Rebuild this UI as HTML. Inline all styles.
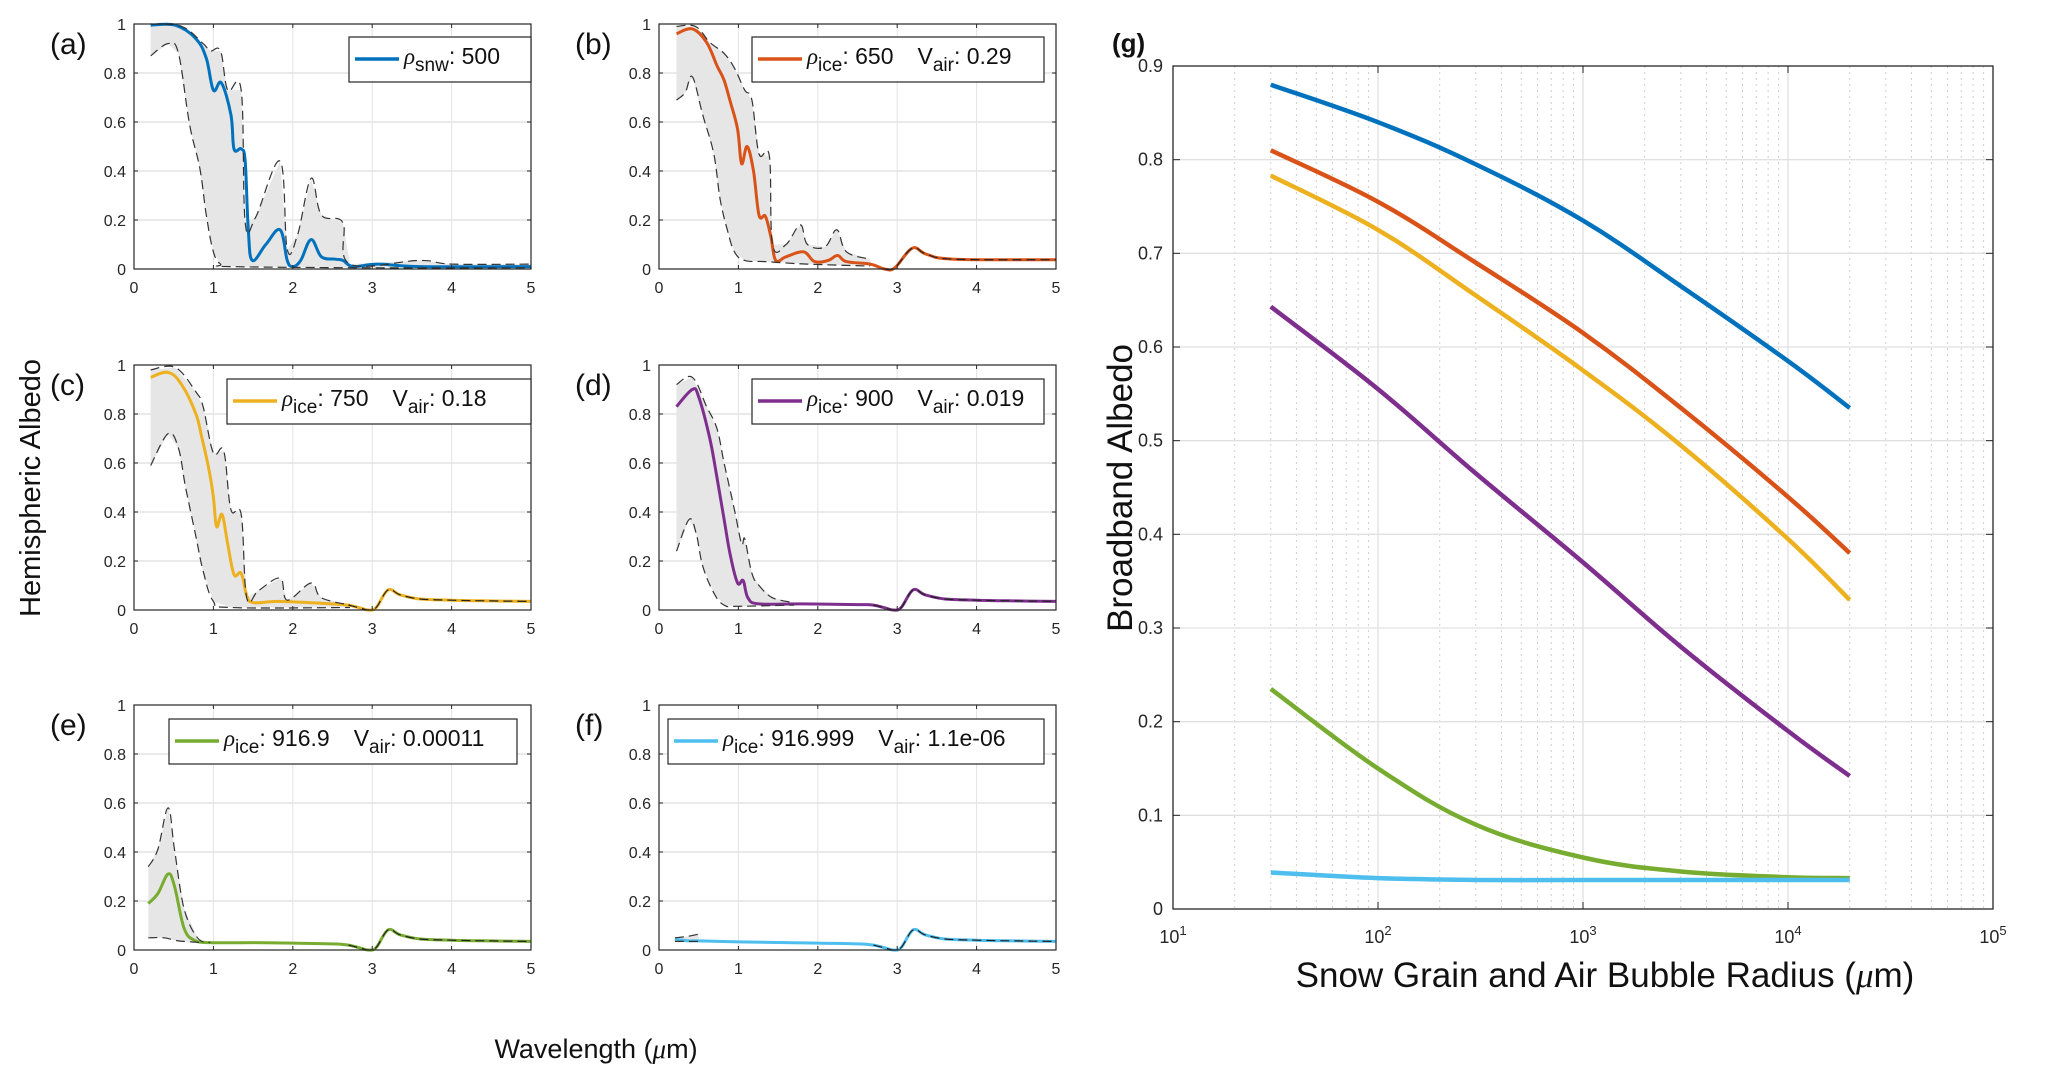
<!DOCTYPE html>
<html><head><meta charset="utf-8">
<style>
html,body{margin:0;padding:0;background:#fff;}
svg{display:block;font-family:"Liberation Sans",sans-serif;}
</style></head>
<body>
<svg id="fig" width="2067" height="1085" viewBox="0 0 2067 1085" xmlns="http://www.w3.org/2000/svg"></svg>
<script>
// ---------- Data: spectral panels (wavelength µm, albedo) ----------
const tailX = [2.5, 2.7, 2.85, 2.95, 3.05, 3.2, 3.35, 3.6, 4.0, 4.5, 5.0];
const tailY = [0.025, 0.02, 0.008, 0.0, 0.01, 0.082, 0.062, 0.045, 0.04, 0.037, 0.035];

const aLineX = [0.21,0.52,0.78,0.91,1.0,1.1,1.22,1.26,1.35,1.4,1.44,1.49,1.66,1.84,1.93,2.0,2.1,2.23,2.36,2.54,2.63,2.76,3.07,3.6,5.0];
const aLineY = [0.995,0.995,0.94,0.86,0.73,0.76,0.63,0.49,0.49,0.44,0.16,0.035,0.10,0.16,0.035,0.01,0.035,0.12,0.05,0.04,0.035,0.01,0.02,0.01,0.01];
const aUpX = [0.21,0.6,0.87,0.96,1.09,1.18,1.35,1.4,1.53,1.84,1.93,2.06,2.23,2.36,2.63,2.72,3.6,4.0,5.0];
const aUpY = [1.0,0.99,0.92,0.89,0.89,0.73,0.73,0.19,0.21,0.44,0.08,0.14,0.37,0.22,0.19,0.02,0.035,0.02,0.02];
const aLoX = [0.21,0.43,0.56,0.7,0.83,0.91,1.0,1.09,1.22,3.0,5.0];
const aLoY = [0.87,0.92,0.88,0.59,0.41,0.22,0.07,0.02,0.01,0.005,0.005];

const bLineX = [0.22,0.42,0.6,0.73,0.82,0.9,0.99,1.04,1.11,1.19,1.26,1.34,1.41,1.47,1.6,1.82,1.96,2.13,2.25,2.36,2.66,2.84,2.97,3.19,3.37,3.72,5.0];
const bLineY = [0.96,0.98,0.925,0.83,0.77,0.68,0.57,0.43,0.5,0.4,0.22,0.215,0.13,0.035,0.05,0.07,0.03,0.035,0.055,0.03,0.02,0.0,0.005,0.085,0.06,0.04,0.038];
const bUpX = [0.22,0.46,0.64,0.82,0.95,1.08,1.17,1.26,1.39,1.43,1.6,1.78,1.87,2.09,2.24,2.36,2.66];
const bUpY = [0.99,0.99,0.925,0.88,0.82,0.73,0.69,0.47,0.46,0.1,0.1,0.18,0.1,0.09,0.16,0.07,0.04];
const bLoX = [0.22,0.33,0.42,0.55,0.69,0.77,0.86,0.95,1.08,1.34,1.87,2.66];
const bLoY = [0.69,0.72,0.785,0.63,0.47,0.285,0.16,0.07,0.035,0.03,0.02,0.012];

const cLineX = [0.21,0.43,0.6,0.78,0.85,0.94,1.0,1.04,1.11,1.18,1.26,1.35,1.42,1.5,1.8,2.2,2.5];
const cLineY = [0.95,0.97,0.92,0.8,0.71,0.58,0.46,0.34,0.39,0.27,0.145,0.15,0.06,0.03,0.035,0.03,0.025];
const cUpX = [0.21,0.52,0.78,0.87,1.0,1.13,1.22,1.35,1.42,1.57,1.84,1.93,2.23,2.36,2.72];
const cUpY = [0.98,0.99,0.89,0.83,0.64,0.65,0.41,0.39,0.05,0.08,0.13,0.04,0.11,0.05,0.02];
const cLoX = [0.21,0.43,0.56,0.65,0.78,0.87,1.0,1.22,2.72];
const cLoY = [0.59,0.72,0.66,0.5,0.3,0.16,0.035,0.01,0.01];

const dLineX = [0.22,0.42,0.5,0.64,0.73,0.82,0.9,0.99,1.06,1.12,1.26,1.8,2.5];
const dLineY = [0.83,0.9,0.87,0.7,0.54,0.37,0.22,0.11,0.12,0.05,0.025,0.025,0.022];
const dUpX = [0.22,0.42,0.6,0.73,0.82,0.95,1.04,1.08,1.17,1.26,1.43,1.7];
const dUpY = [0.92,0.95,0.83,0.74,0.6,0.41,0.27,0.29,0.15,0.1,0.05,0.03];
const dLoX = [0.22,0.38,0.47,0.55,0.69,0.82,0.99,1.7];
const dLoY = [0.24,0.37,0.31,0.18,0.07,0.02,0.015,0.02];

const eLineX = [0.18,0.3,0.43,0.51,0.63,0.76,0.96,1.5,2.0,2.5];
const eLineY = [0.19,0.23,0.31,0.26,0.09,0.04,0.03,0.03,0.028,0.025];
const eUpX = [0.18,0.3,0.43,0.51,0.63,0.8,0.96];
const eUpY = [0.34,0.41,0.58,0.41,0.17,0.05,0.03];
const eLoX = [0.18,0.38,0.51,0.63,0.88];
const eLoY = [0.05,0.05,0.04,0.035,0.03];

const fLineX = [0.2,0.35,0.5,1.0,2.0,2.5];
const fLineY = [0.045,0.038,0.037,0.033,0.028,0.025];
const fUpX = [0.2,0.35,0.5];
const fUpY = [0.05,0.055,0.065];
const fLoX = [0.2,0.35,0.5];
const fLoY = [0.035,0.035,0.035];

const legendRho = ["snw","ice","ice","ice","ice","ice"];
const legendRhoVal = ["500","650","750","900","916.9","916.999"];
const legendVair = [null,"0.29","0.18","0.019","0.00011","1.1e-06"];
const panelLetters = ["(a)","(b)","(c)","(d)","(e)","(f)"];
const xTicksSmall = [0,1,2,3,4,5];
const yTicksSmall = [0,0.2,0.4,0.6,0.8,1];
const yTickLabelsSmall = ["0","0.2","0.4","0.6","0.8","1"];

// ---------- Data: broadband panel (g) ----------
const gRadius = [30,100,300,1000,3000,10000,20000];
const gBlue   = [0.88,0.84,0.795,0.735,0.665,0.585,0.535];
const gOrange = [0.81,0.755,0.69,0.615,0.535,0.44,0.38];
const gYellow = [0.783,0.725,0.655,0.575,0.495,0.395,0.33];
const gPurple = [0.643,0.555,0.465,0.37,0.28,0.19,0.142];
const gGreen  = [0.235,0.15,0.09,0.055,0.04,0.034,0.033];
const gCyan   = [0.039,0.033,0.031,0.031,0.031,0.031,0.031];
const gYTicks = [0,0.1,0.2,0.3,0.4,0.5,0.6,0.7,0.8,0.9];
const gYTickLabels = ["0","0.1","0.2","0.3","0.4","0.5","0.6","0.7","0.8","0.9"];
const gXExps = [1,2,3,4,5];

const COLORS = ["#0072BD","#D95319","#EDB120","#7E2F8E","#77AC30","#4DBEEE"];
const NS = "http://www.w3.org/2000/svg";
const svg = document.getElementById("fig");

function mk(tag, attrs, parent){
  const e = document.createElementNS(NS, tag);
  for (const k in attrs) e.setAttribute(k, attrs[k]);
  (parent||svg).appendChild(e);
  return e;
}
function smoothPath(pts){
  if (pts.length < 2) return "";
  let d = "M"+pts[0][0].toFixed(1)+","+pts[0][1].toFixed(1);
  for (let i=0;i<pts.length-1;i++){
    const p0 = pts[Math.max(0,i-1)], p1 = pts[i], p2 = pts[i+1], p3 = pts[Math.min(pts.length-1,i+2)];
    const t = 0.18;
    const c1x = p1[0]+(p2[0]-p0[0])*t, c1y = p1[1]+(p2[1]-p0[1])*t;
    const c2x = p2[0]-(p3[0]-p1[0])*t, c2y = p2[1]-(p3[1]-p1[1])*t;
    d += " C"+c1x.toFixed(1)+","+c1y.toFixed(1)+" "+c2x.toFixed(1)+","+c2y.toFixed(1)+" "+p2[0].toFixed(1)+","+p2[1].toFixed(1);
  }
  return d;
}

const panels = [
  {L:134,R:531,T:24,B:269, line:[aLineX,aLineY], up:[aUpX,aUpY], lo:[aLoX,aLoY], tail:false},
  {L:659,R:1056,T:24,B:269, line:[bLineX,bLineY], up:[bUpX,bUpY], lo:[bLoX,bLoY], tail:false},
  {L:134,R:531,T:365,B:610, line:[cLineX,cLineY], up:[cUpX,cUpY], lo:[cLoX,cLoY], tail:true},
  {L:659,R:1056,T:365,B:610, line:[dLineX,dLineY], up:[dUpX,dUpY], lo:[dLoX,dLoY], tail:true},
  {L:134,R:531,T:705,B:950, line:[eLineX,eLineY], up:[eUpX,eUpY], lo:[eLoX,eLoY], tail:true},
  {L:659,R:1056,T:705,B:950, line:[fLineX,fLineY], up:[fUpX,fUpY], lo:[fLoX,fLoY], tail:true}
];
const legendBoxes = [[349,37,182],[752,37,292],[227,379,304],[752,379,292],[169,719,348],[668,719,376]];

panels.forEach((p,i)=>{
  const g = mk("g",{});
  
  
  const sx = v => p.L + (v/5)*(p.R-p.L);
  const sy = v => p.B - v*(p.B-p.T);
  mk("rect",{x:p.L,y:p.T,width:p.R-p.L,height:p.B-p.T,fill:"#fff"},g);
  xTicksSmall.forEach(t=>{ if(t>0&&t<5) mk("line",{x1:sx(t),x2:sx(t),y1:p.T,y2:p.B,stroke:"#e3e3e3","stroke-width":1},g);});
  yTicksSmall.forEach(t=>{ if(t>0&&t<1) mk("line",{x1:p.L,x2:p.R,y1:sy(t),y2:sy(t),stroke:"#e3e3e3","stroke-width":1.5},g);});
  const upPts = p.up[0].map((x,k)=>[sx(x),sy(p.up[1][k])]);
  const loPts = p.lo[0].map((x,k)=>[sx(x),sy(p.lo[1][k])]);
  const poly = upPts.concat(loPts.slice().reverse()).map(q=>q.join(",")).join(" ");
  const band = mk("polygon",{points:poly,fill:"#e6e6e6",stroke:"none"},g);
  
  
  let lx = p.line[0].slice(), ly = p.line[1].slice();
  if (p.tail){ lx = lx.concat(tailX.slice(1)); ly = ly.concat(tailY.slice(1)); }
  const linePts = lx.map((x,k)=>[sx(x),sy(ly[k])]);
  const ml = mk("path",{d:smoothPath(linePts),fill:"none",stroke:COLORS[i],"stroke-width":3,"stroke-linejoin":"round"},g);
  
  
  const u = mk("path",{d:smoothPath(upPts),fill:"none",stroke:"#333","stroke-width":1.2,"stroke-dasharray":"9,5"},g);
  
  
  const l = mk("path",{d:smoothPath(loPts),fill:"none",stroke:"#333","stroke-width":1.2,"stroke-dasharray":"9,5"},g);
  
  
  if (p.tail || i===1){
    const start = i===1 ? 2.9 : 2.7;
    const tx = i===1 ? [2.84,2.97,3.19,3.37,3.72,5.0] : tailX.filter(x=>x>=start);
    const ty = i===1 ? [0.0,0.005,0.085,0.06,0.04,0.038] : tailY.slice(tailY.length-tx.length);
    const td = mk("path",{d:smoothPath(tx.map((x,k)=>[sx(x),sy(ty[k])])),fill:"none",stroke:"#222","stroke-width":1.2,"stroke-dasharray":"9,5"},g);
    
    
  }
  mk("rect",{x:p.L,y:p.T,width:p.R-p.L,height:p.B-p.T,fill:"none",stroke:"#262626","stroke-width":1.2},g);
  xTicksSmall.forEach(t=>{
    mk("line",{x1:sx(t),x2:sx(t),y1:p.B,y2:p.B-4,stroke:"#262626"},g);
    mk("line",{x1:sx(t),x2:sx(t),y1:p.T,y2:p.T+4,stroke:"#262626"},g);
    const tl = mk("text",{x:sx(t),y:p.B+24,"font-size":16,"text-anchor":"middle",fill:"#262626"},g);
    tl.textContent = String(t);
    
    
  });
  yTicksSmall.forEach((t,k)=>{
    mk("line",{x1:p.L,x2:p.L+4,y1:sy(t),y2:sy(t),stroke:"#262626"},g);
    mk("line",{x1:p.R,x2:p.R-4,y1:sy(t),y2:sy(t),stroke:"#262626"},g);
    const tl = mk("text",{x:p.L-8,y:sy(t)+6,"font-size":16,"text-anchor":"end",fill:"#262626"},g);
    tl.textContent = yTickLabelsSmall[k];
    
    
  });
  const pl = mk("text",{x:p.L-84,y:p.T+30,"font-size":30,fill:"#111"},g);
  pl.textContent = panelLetters[i];
  
  
  const [bx,by,bw] = legendBoxes[i];
  const lg = mk("g",{},g);
  
  
  mk("rect",{x:bx,y:by,width:bw,height:45,fill:"#fff",stroke:"#262626","stroke-width":1.2},lg);
  mk("line",{x1:bx+6,x2:bx+50,y1:by+22,y2:by+22,stroke:COLORS[i],"stroke-width":3.5},lg);
  const t = mk("text",{x:bx+55,y:by+27,"font-size":23,fill:"#111"},lg);
  let h = '<tspan font-style="italic" font-family="Liberation Serif">ρ</tspan><tspan dy="7" font-size="19">'+legendRho[i]+'</tspan><tspan dy="-7">: '+legendRhoVal[i]+'</tspan>';
  if (legendVair[i]) h += '<tspan dx="24">V</tspan><tspan dy="7" font-size="19">air</tspan><tspan dy="-7">: '+legendVair[i]+'</tspan>';
  t.innerHTML = h;
});

let tt = mk("text",{x:0,y:0,"font-size":29,"text-anchor":"middle",fill:"#111",transform:"translate(40,488) rotate(-90)"});
tt.textContent = "Hemispheric Albedo";


tt = mk("text",{x:596,y:1058,"font-size":27,"text-anchor":"middle",fill:"#111"});
tt.innerHTML = 'Wavelength (<tspan font-style="italic" font-family="Liberation Serif">μ</tspan>m)';



// ---------- Panel g ----------
(function(){
  const L=1173,R=1993,T=66,B=909;
  const g = mk("g",{});
  
  
  const sx = v => L + (Math.log10(v)-1)/4*(R-L);
  const sy = v => B - v/0.9*(B-T);
  for (let e=1;e<5;e++){
    for (let m=2;m<=9;m++){
      mk("line",{x1:sx(m*Math.pow(10,e)),x2:sx(m*Math.pow(10,e)),y1:T,y2:B,stroke:"#cfcfcf","stroke-width":1,"stroke-dasharray":"2,4"},g);
    }
  }
  gXExps.forEach(e=>{ if(e>1&&e<5) mk("line",{x1:sx(Math.pow(10,e)),x2:sx(Math.pow(10,e)),y1:T,y2:B,stroke:"#e0e0e0","stroke-width":1.3},g);});
  gYTicks.forEach(t=>{ if(t>0&&t<0.9) mk("line",{x1:L,x2:R,y1:sy(t),y2:sy(t),stroke:"#e0e0e0","stroke-width":1.3},g);});
  const series = [gBlue,gOrange,gYellow,gPurple,gGreen,gCyan];
  const names = ["snow-line","ice-650-line","ice-750-line","ice-900-line","ice-916.9-line","ice-916.999-line"];
  series.forEach((s,i)=>{
    const pts = gRadius.map((r,k)=>[sx(r),sy(s[k])]);
    const pth = mk("path",{d:smoothPath(pts),fill:"none",stroke:COLORS[i],"stroke-width":4.5},g);
    
    
  });
  mk("rect",{x:L,y:T,width:R-L,height:B-T,fill:"none",stroke:"#262626","stroke-width":1.3},g);
  gYTicks.forEach((t,k)=>{
    mk("line",{x1:L,x2:L+7,y1:sy(t),y2:sy(t),stroke:"#262626"},g);
    mk("line",{x1:R,x2:R-7,y1:sy(t),y2:sy(t),stroke:"#262626"},g);
    const tl = mk("text",{x:L-10,y:sy(t)+6,"font-size":18,"text-anchor":"end",fill:"#262626"},g);
    tl.textContent = gYTickLabels[k];
    
    
  });
  gXExps.forEach(e=>{
    const x = sx(Math.pow(10,e));
    mk("line",{x1:x,x2:x,y1:B,y2:B-7,stroke:"#262626"},g);
    mk("line",{x1:x,x2:x,y1:T,y2:T+7,stroke:"#262626"},g);
    const tl = mk("text",{x:x,y:B+34,"font-size":18,"text-anchor":"middle",fill:"#262626"},g);
    tl.innerHTML = '10<tspan dy="-8" font-size="13">'+e+'</tspan>';
    
    
  });
  let t = mk("text",{x:1112,y:52,"font-size":26,fill:"#111","font-weight":"bold"},g);
  t.textContent = "(g)";
  
  
  t = mk("text",{x:0,y:0,"font-size":35,"text-anchor":"middle",fill:"#111",transform:"translate(1132,488) rotate(-90)"},g);
  t.textContent = "Broadband Albedo";
  
  
  t = mk("text",{x:1605,y:987,"font-size":35,"text-anchor":"middle",fill:"#111"},g);
  t.innerHTML = 'Snow Grain and Air Bubble Radius (<tspan font-style="italic" font-family="Liberation Serif">μ</tspan>m)';
  
  
})();
</script>
</body></html>
